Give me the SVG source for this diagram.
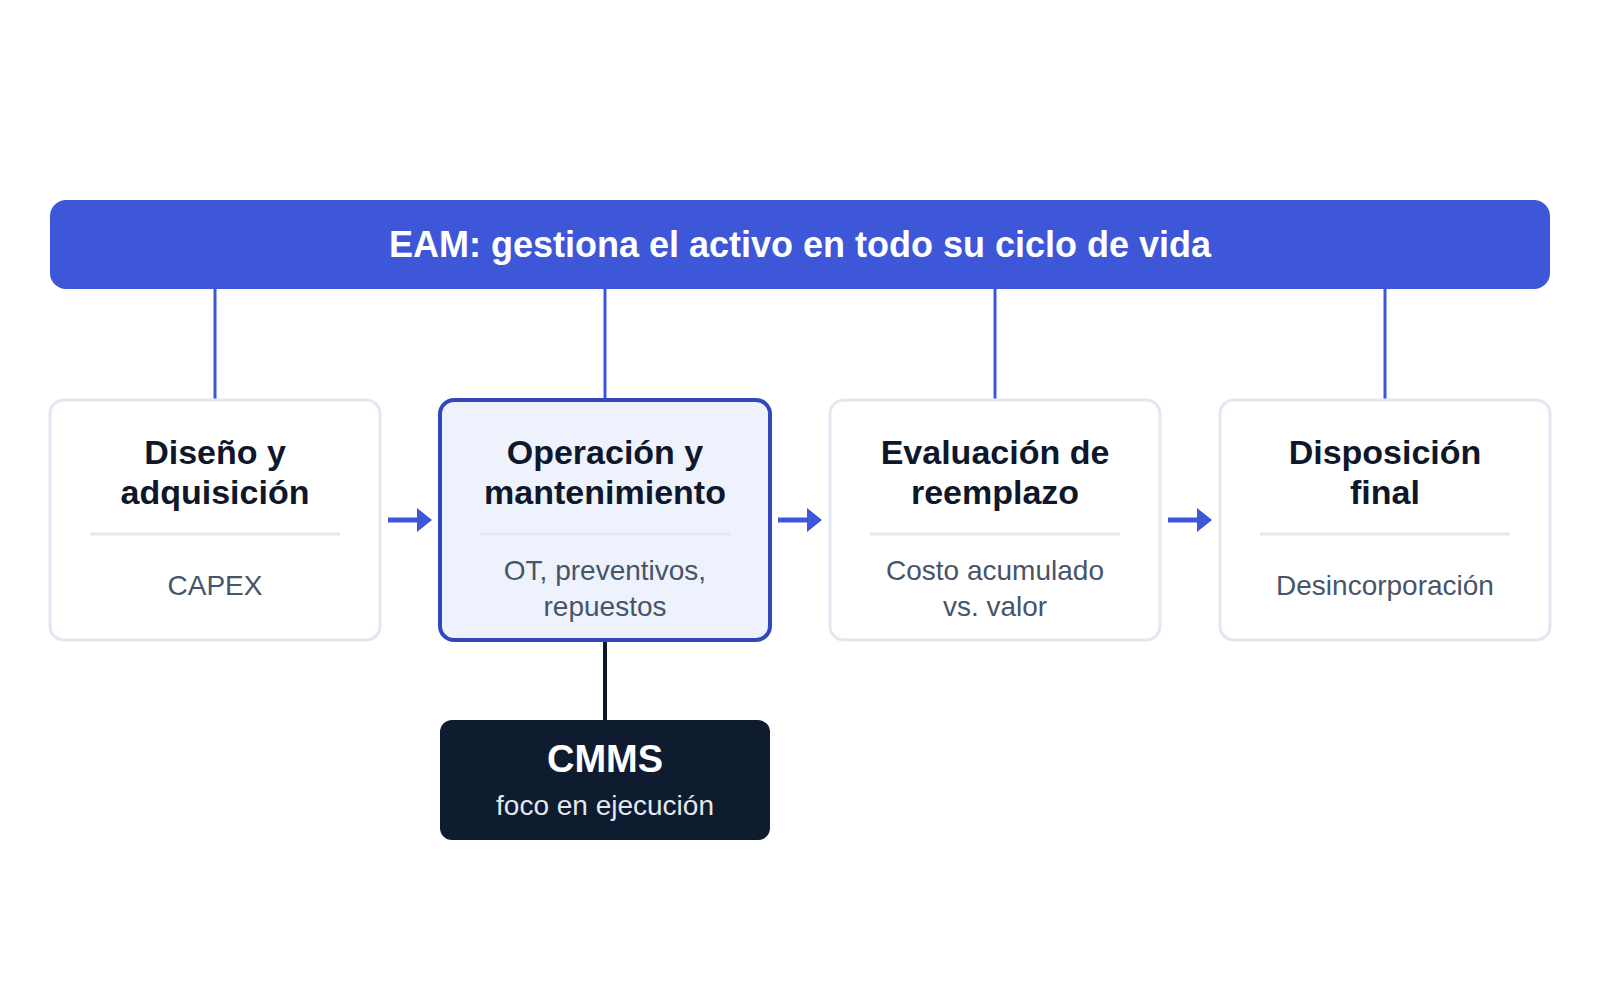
<svg xmlns="http://www.w3.org/2000/svg" width="1600" height="1000" viewBox="0 0 1600 1000">
<style>
.card{fill:#ffffff;stroke:#e2e8f0;stroke-width:3}
.hl{fill:#eef2fd;stroke:#3347bd;stroke-width:4}
.t{font-family:"Liberation Sans",Arial,sans-serif;font-weight:700;font-size:34px;fill:#0f172a;text-anchor:middle}
.s{font-family:"Liberation Sans",Arial,sans-serif;font-size:28px;fill:#475569;text-anchor:middle}
.div{stroke:#e2e8f0;stroke-width:3}
.vc{stroke:#3d57d8;stroke-width:3;fill:none}
.ar{stroke:#3d57d8;stroke-width:5;fill:none}
</style>
<defs>
<marker id="ah" markerUnits="userSpaceOnUse" markerWidth="16" markerHeight="24" refX="1" refY="12" orient="auto">
<path d="M0,0 L15,12 L0,24 Z" fill="#3d57d8"/>
</marker>
</defs>
<rect width="1600" height="1000" fill="#ffffff"/>
<g id="connectors">
<line class="vc" x1="215" y1="289" x2="215" y2="400"/>
<line class="vc" x1="605" y1="289" x2="605" y2="400"/>
<line class="vc" x1="995" y1="289" x2="995" y2="400"/>
<line class="vc" x1="1385" y1="289" x2="1385" y2="400"/>
<line class="ar" x1="388" y1="520" x2="418" y2="520" marker-end="url(#ah)"/>
<line class="ar" x1="778" y1="520" x2="808" y2="520" marker-end="url(#ah)"/>
<line class="ar" x1="1168" y1="520" x2="1198" y2="520" marker-end="url(#ah)"/>
<line stroke="#0f172a" stroke-width="4" x1="605" y1="640" x2="605" y2="720"/>
</g>
<g id="header">
<rect x="50" y="200" width="1500" height="89" rx="16" fill="#3d57d8"/>
<text x="800" y="257" font-family="'Liberation Sans',Arial,sans-serif" font-weight="700" font-size="36" fill="#ffffff" text-anchor="middle">EAM: gestiona el activo en todo su ciclo de vida</text>
</g>
<g id="node-diseno">
<rect class="card" x="50" y="400" width="330" height="240" rx="14"/>
<text class="t" x="215" y="464">Diseño y</text>
<text class="t" x="215" y="504">adquisición</text>
<line class="div" x1="90" y1="534" x2="340" y2="534"/>
<text class="s" x="215" y="595">CAPEX</text>
</g>
<g id="node-operacion">
<rect class="hl" x="440" y="400" width="330" height="240" rx="14"/>
<text class="t" x="605" y="464">Operación y</text>
<text class="t" x="605" y="504">mantenimiento</text>
<line class="div" x1="480" y1="534" x2="730" y2="534"/>
<text class="s" x="605" y="580">OT, preventivos,</text>
<text class="s" x="605" y="616">repuestos</text>
</g>
<g id="node-evaluacion">
<rect class="card" x="830" y="400" width="330" height="240" rx="14"/>
<text class="t" x="995" y="464">Evaluación de</text>
<text class="t" x="995" y="504">reemplazo</text>
<line class="div" x1="870" y1="534" x2="1120" y2="534"/>
<text class="s" x="995" y="580">Costo acumulado</text>
<text class="s" x="995" y="616">vs. valor</text>
</g>
<g id="node-disposicion">
<rect class="card" x="1220" y="400" width="330" height="240" rx="14"/>
<text class="t" x="1385" y="464">Disposición</text>
<text class="t" x="1385" y="504">final</text>
<line class="div" x1="1260" y1="534" x2="1510" y2="534"/>
<text class="s" x="1385" y="595">Desincorporación</text>
</g>
<g id="node-cmms">
<rect x="440" y="720" width="330" height="120" rx="12" fill="#0f1b2f"/>
<text x="605" y="772" font-family="'Liberation Sans',Arial,sans-serif" font-weight="700" font-size="38" fill="#ffffff" text-anchor="middle">CMMS</text>
<text x="605" y="815" font-family="'Liberation Sans',Arial,sans-serif" font-size="28" fill="#e2e8f0" text-anchor="middle">foco en ejecución</text>
</g>
</svg>
